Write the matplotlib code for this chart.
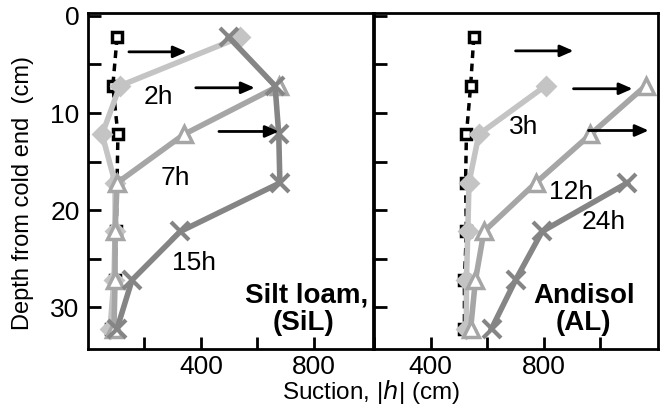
import matplotlib
matplotlib.use("Agg")
import matplotlib.pyplot as plt

plt.rcParams['font.family'] = ['Liberation Sans', 'DejaVu Sans']

depth = [2.2, 7.2, 12.2, 17.2, 22.2, 27.2, 32.2]

# Silt loam (SiL)
sil_init = [103, 88, 106, 103, 100, 95, 80]
sil_2h = [538, 113, 50, 96, 96, 92, 78]
sil_7h_depth = depth[1:]
sil_7h = [676, 340, 103, 96, 96, 92]
sil_15h = [499, 663, 676, 680, 327, 156, 103]

# Andisol (AL)
al_init = [553, 542, 527, 524, 527, 520, 520]
al_3h_depth = depth[1:]
al_3h = [807, 571, 536, 532, 527, 527]
al_12h_depth = depth[1:]
al_12h = [1161, 966, 772, 589, 559, 542]
al_24h_depth = depth[3:]
al_24h = [1096, 795, 701, 616]

sil_arrows = [(145, 350, 3.7), (382, 591, 7.4), (464, 676, 11.9)]
al_arrows = [(701, 906, 3.6), (906, 1115, 7.5), (959, 1172, 11.8)]

light = '#c4c4c4'
mid = '#a6a6a6'
dark = '#858585'

fig = plt.figure(figsize=(6.7, 4.09), dpi=100)
W, H = 670, 409
axL = fig.add_axes([88 / W, (H - 349) / H, (373 - 88) / W, (349 - 13) / H])
axR = fig.add_axes([374 / W, (H - 349) / H, (658 - 374) / W, (349 - 13) / H])

fs = 19
fsb = 20


def style(ax, xlim, labels_y):
    ax.set_xlim(*xlim)
    ax.set_ylim(34.3, -0.3)
    for s in ax.spines.values():
        s.set_linewidth(2)
    ax.set_xticks([400, 800])
    ax.set_xticks([200, 600, 1000] if xlim[1] > 1100 else [200, 600], minor=True)
    ax.set_yticks([0, 10, 20, 30])
    ax.set_yticks([5, 15, 25], minor=True)
    ax.tick_params(which='both', direction='in', length=9, width=2, labelsize=fs)
    ax.tick_params(axis='x', pad=4)
    ax.tick_params(axis='y', pad=6)
    if not labels_y:
        ax.tick_params(axis='y', labelleft=False)


def initial(ax, x):
    ax.plot(x, depth, color='black', ls=(0, (2.2, 1.6)), lw=2.5, marker='s', ms=6.5,
            mfc='white', mec='black', mew=2.5, zorder=2)


def series(ax, x, y, color, marker, ms, mew, mfc):
    ax.plot(x, y, color=color, lw=4, marker=marker, ms=ms, mec=color, mew=mew,
            mfc=mfc, zorder=3)


def arrows(ax, arr):
    for x0, x1, d in arr:
        ax.annotate('', xy=(x1, d), xytext=(x0, d),
                    arrowprops=dict(arrowstyle='-|>,head_length=0.8,head_width=0.35',
                                    color='black', lw=2, shrinkA=0, shrinkB=0),
                    zorder=5)


# Left panel
style(axL, (0, 1010), True)
initial(axL, sil_init)
series(axL, sil_2h, depth, light, 'D', 9, 2, light)
series(axL, sil_7h, sil_7h_depth, mid, '^', 11, 2.5, 'white')
series(axL, sil_15h, depth, dark, 'x', 13, 3, dark)
arrows(axL, sil_arrows)
axL.text(251, 8.4, '2h', fontsize=fs, ha='center', va='center')
axL.text(308, 16.7, '7h', fontsize=fs, ha='center', va='center')
axL.text(375, 25.4, '15h', fontsize=fs, ha='center', va='center')
axL.text(775, 28.8, 'Silt loam,', fontsize=fsb, fontweight='bold', ha='center', va='center')
axL.text(765, 31.6, '(SiL)', fontsize=fsb, fontweight='bold', ha='center', va='center')

# Right panel
style(axR, (200, 1205), False)
initial(axR, al_init)
series(axR, al_3h, al_3h_depth, light, 'D', 9, 2, light)
series(axR, al_12h, al_12h_depth, mid, '^', 11, 2.5, 'white')
series(axR, al_24h, al_24h_depth, dark, 'x', 13, 3, dark)
arrows(axR, al_arrows)
axR.text(729, 11.4, '3h', fontsize=fs, ha='center', va='center')
axR.text(896, 18.1, '12h', fontsize=fs, ha='center', va='center')
axR.text(1013, 21.2, '24h', fontsize=fs, ha='center', va='center')
axR.text(942, 28.8, 'Andisol', fontsize=fsb, fontweight='bold', ha='center', va='center')
axR.text(942, 31.6, '(AL)', fontsize=fsb, fontweight='bold', ha='center', va='center')

fig.text(371 / W, 1 - 392 / H, r'Suction, |$\it{h}$| (cm)', fontsize=17.5,
         ha='center', va='center')
fig.text(23 / W, 1 - 193 / H, 'Depth from cold end  (cm)', fontsize=17,
         ha='center', va='center', rotation=90)

fig.savefig('out.png', dpi=100)
